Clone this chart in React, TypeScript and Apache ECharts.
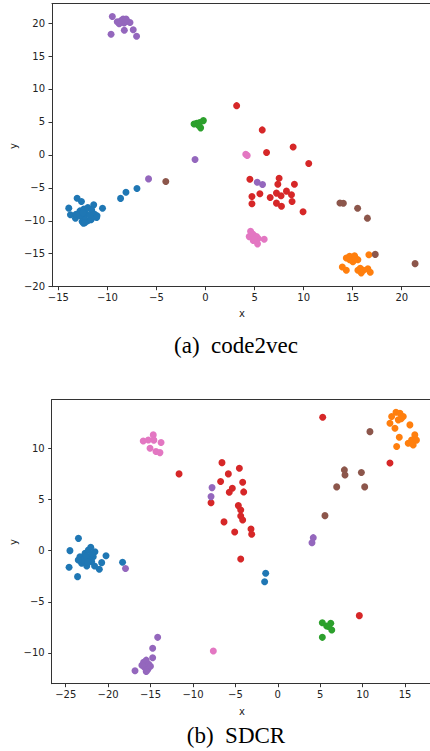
import React, { useEffect, useRef } from 'react';
import * as echarts from 'echarts';

const C = {
  blue: '#1f77b4',
  orange: '#ff7f0e',
  green: '#2ca02c',
  red: '#d62728',
  purple: '#9467bd',
  brown: '#8c564b',
  pink: '#e377c2',
};

// tick labels
const xTicksA = [-15, -10, -5, 0, 5, 10, 15, 20];
const yTicksA = [-20, -15, -10, -5, 0, 5, 10, 15, 20];
const xTicksB = [-25, -20, -15, -10, -5, 0, 5, 10, 15];
const yTicksB = [-10, -5, 0, 5, 10];

// (a) code2vec
const aBlue = [
  [-13.09, -6.57], [-12.65, -7.07], [-13.94, -8.08], [-13.77, -9.09], [-13.26, -9.6],
  [-12.58, -10.1], [-11.4, -7.58], [-10.5, -8.1], [-12.45, -10.35], [-11.67, -9.85],
  [-11.06, -9.24], [-12.8, -8.5], [-12.4, -8.2], [-12.0, -8.0], [-11.6, -8.4],
  [-11.3, -9.0], [-11.6, -9.6], [-12.0, -10.0], [-12.4, -9.6], [-12.8, -9.2],
  [-12.2, -8.9], [-11.8, -9.2], [-12.5, -8.8], [-11.1, -9.5], [-12.3, -10.3],
  [-13.2, -9.0], [-6.99, -5.1], [-8.11, -5.66], [-8.66, -6.6],
];
const aOrange = [
  [14.35, -15.65], [14.69, -15.4], [15.19, -15.3], [15.53, -15.9], [15.02, -16.2],
  [16.65, -15.15], [13.94, -17.0], [14.35, -17.5], [15.53, -17.5], [15.87, -17.9],
  [15.77, -17.2], [16.55, -17.3], [16.79, -17.8], [16.1, -17.5], [14.69, -15.9],
  [15.3, -15.7],
];
const aGreen = [
  [-0.9, 4.8], [-0.22, 5.2], [-0.5, 4.1], [-1.17, 4.7], [-0.73, 4.5], [-0.6, 4.9],
];
const aRed = [
  [3.17, 7.47], [5.78, 3.79], [8.93, 1.21], [6.22, 0.35], [10.52, -1.31],
  [4.52, -3.69], [7.5, -3.54], [7.37, -4.45], [9.06, -4.45], [4.73, -6.31],
  [5.54, -5.9], [4.73, -7.42], [6.59, -6.46], [7.23, -5.8], [7.7, -6.2],
  [8.25, -5.5], [8.76, -6.06], [8.82, -7.07], [7.23, -7.32], [7.74, -7.78],
  [9.94, -8.64],
];
const aPurple = [
  [-9.5, 21.0], [-9.63, 18.3], [-8.28, 18.9], [-7.37, 19.0], [-7.03, 18.0],
  [-9.0, 20.2], [-8.6, 20.4], [-8.3, 20.0], [-8.0, 20.3], [-7.7, 20.1],
  [-8.4, 20.6], [-8.8, 19.9], [-8.1, 20.6], [-1.07, -0.7], [-5.81, -3.64],
  [5.27, -4.14], [5.81, -4.49],
];
const aBrown = [
  [-4.05, -4.04], [13.7, -7.3], [14.05, -7.35], [15.5, -8.1], [16.5, -9.6],
  [17.3, -15.1], [21.36, -16.5],
];
const aPink = [
  [4.1, 0.1], [4.25, -0.1], [4.59, -11.6], [4.45, -12.4], [4.86, -12.1],
  [5.2, -12.4], [5.37, -12.7], [5.98, -12.8], [4.86, -13.0], [5.3, -13.5],
  [5.0, -12.8], [4.7, -11.9],
];

// (b) SDCR
const bBlue = [
  [-23.5, 1.2], [-24.5, 0], [-24.6, -1.63], [-23.6, -2.54], [-20.25, -0.49],
  [-20.76, -1.17], [-21.04, -1.82], [-21.6, -1.5], [-18.3, -1.14],
  [-22.05, 0.33], [-21.55, -0.1], [-23.32, -0.59], [-23.12, -1.23], [-22.52, -1.5],
  [-21.94, -1.07], [-22.72, -0.26], [-22.33, 0.07], [-22.91, -0.91], [-23.52, -0.91],
  [-21.75, -0.59], [-22.2, -0.6], [-22.6, -0.5], [-21.9, -0.3], [-22.4, -1.1],
  [-1.43, -2.21], [-1.55, -3.03],
];
const bOrange = [
  [13.93, 13.53], [14.4, 13.43], [13.42, 13.1], [14.79, 13.1], [14.2, 12.78],
  [13.22, 12.45], [15.57, 12.29], [13.81, 11.96], [14.32, 11.08], [16.15, 11.31],
  [15.77, 10.82], [15.37, 10.5], [15.96, 10.33], [16.34, 10.8], [14.01, 10.17],
  [14.54, 12.9],
];
const bGreen = [
  [5.25, -7.04], [6.24, -7.1], [5.76, -7.36], [6.36, -7.75], [5.25, -8.47], [6.0, -7.4],
];
const bRed = [
  [-11.64, 7.5], [-7.87, 4.69], [5.29, 13.04], [13.22, 8.57], [9.61, -6.35],
  [-6.58, 8.6], [-4.53, 8.05], [-5.83, 7.5], [-6.74, 6.75], [-4.14, 6.68],
  [-5.36, 6.1], [-5.72, 5.7], [-4.02, 5.74], [-4.65, 4.4], [-4.37, 3.98],
  [-4.37, 3.39], [-4.14, 3.0], [-6.34, 2.81], [-5.08, 1.83], [-3.16, 2.12],
  [-3.08, 1.6], [-4.37, -0.81],
];
const bPurple = [
  [-17.95, -1.75], [-7.75, 6.16], [-7.87, 5.28], [4.18, 1.27], [4.03, 0.78],
  [-14.16, -8.47], [-14.75, -9.54], [-14.75, -10.46], [-16.83, -11.73],
  [-15.82, -10.9], [-15.51, -10.7], [-15.21, -11.1], [-15.72, -11.4],
  [-15.31, -11.6], [-15.01, -11.3], [-16.02, -11.2], [-15.51, -11.8],
];
const bBrown = [
  [10.86, 11.63], [7.85, 7.89], [7.92, 7.4], [9.85, 7.63], [6.94, 6.23],
  [10.24, 6.23], [5.56, 3.42],
];
const bPink = [
  [-15.86, 10.72], [-15.26, 10.82], [-14.68, 11.31], [-14.61, 10.8], [-13.76, 10.56],
  [-15.06, 10.0], [-14.36, 9.68], [-13.89, 9.58], [-7.6, -9.8],
];

const fmt = (v: number) => (v < 0 ? '\u2212' + Math.abs(v) : String(v));
const tickFont = { fontFamily: 'DejaVu Sans', fontSize: 10, color: '#222' };
const spine = { show: true, lineStyle: { color: '#333', width: 1 } };

function bottomX(grid: number, min: number, max: number, ticks: number[]) {
  return {
    type: 'value', gridIndex: grid, position: 'bottom', min, max,
    axisLine: { ...spine, onZero: false },
    axisTick: { show: true, length: 3.5, inside: false, customValues: ticks, lineStyle: { color: '#333' } },
    axisLabel: { ...tickFont, margin: 6, customValues: ticks, formatter: fmt },
    splitLine: { show: false },
  };
}
function topX(grid: number, min: number, max: number) {
  return {
    type: 'value', gridIndex: grid, position: 'top', min, max,
    axisLine: { ...spine, onZero: false },
    axisTick: { show: false }, axisLabel: { show: false }, splitLine: { show: false },
  };
}
function leftY(grid: number, min: number, max: number, ticks: number[]) {
  return {
    type: 'value', gridIndex: grid, position: 'left', min, max,
    axisLine: { ...spine, onZero: false },
    axisTick: { show: true, length: 3.5, inside: false, customValues: ticks, lineStyle: { color: '#333' } },
    axisLabel: { ...tickFont, margin: 7, customValues: ticks, formatter: fmt },
    splitLine: { show: false },
  };
}

const sc = (data: number[][], color: string, xi: number, yi: number) => ({
  type: 'scatter', data, xAxisIndex: xi, yAxisIndex: yi, symbolSize: 7,
  itemStyle: { color, opacity: 1 }, clip: false,
});

export default function App() {
  const ref = useRef<HTMLDivElement>(null);
  useEffect(() => {
    if (!ref.current) return;
    const chart = echarts.init(ref.current, null, { renderer: 'svg' });
    const axisName = { fontFamily: 'DejaVu Sans', fontSize: 10, fill: '#222' };
    chart.setOption({
      animation: false,
      backgroundColor: '#fff',
      grid: [
        { left: 52, top: 3.7, width: 378, height: 283 },
        { left: 51.7, top: 399.7, width: 378.3, height: 284 },
      ],
      xAxis: [
        bottomX(0, -15.65, 22.88, xTicksA),
        topX(0, -15.65, 22.88),
        bottomX(1, -26.65, 17.94, xTicksB),
        topX(1, -26.65, 17.94),
      ],
      yAxis: [leftY(0, -20, 22.94, yTicksA), leftY(1, -13.0, 14.75, yTicksB)],
      series: [
        sc(aBlue, C.blue, 0, 0), sc(aOrange, C.orange, 0, 0), sc(aGreen, C.green, 0, 0),
        sc(aRed, C.red, 0, 0), sc(aPurple, C.purple, 0, 0), sc(aBrown, C.brown, 0, 0),
        sc(aPink, C.pink, 0, 0),
        sc(bBlue, C.blue, 2, 1), sc(bOrange, C.orange, 2, 1), sc(bGreen, C.green, 2, 1),
        sc(bRed, C.red, 2, 1), sc(bPurple, C.purple, 2, 1), sc(bBrown, C.brown, 2, 1),
        sc(bPink, C.pink, 2, 1),
      ],
      graphic: [
        { type: 'text', x: 242, y: 313, style: { ...axisName, text: 'x', align: 'center', verticalAlign: 'middle' } },
        { type: 'text', x: 13, y: 146, rotation: Math.PI / 2, style: { ...axisName, text: 'y', align: 'center', verticalAlign: 'middle' } },
        { type: 'text', x: 242, y: 711, style: { ...axisName, text: 'x', align: 'center', verticalAlign: 'middle' } },
        { type: 'text', x: 13, y: 542, rotation: Math.PI / 2, style: { ...axisName, text: 'y', align: 'center', verticalAlign: 'middle' } },
        { type: 'text', x: 236, y: 345, style: { text: '(a)\u00a0\u00a0code2vec', fontFamily: 'Liberation Serif', fontSize: 23, fill: '#000', align: 'center', verticalAlign: 'middle' } },
        { type: 'text', x: 236, y: 735, style: { text: '(b)\u00a0\u00a0SDCR', fontFamily: 'Liberation Serif', fontSize: 23, fill: '#000', align: 'center', verticalAlign: 'middle' } },
      ],
    });
    return () => chart.dispose();
  }, []);
  return <div ref={ref} style={{ position: 'absolute', left: 0, top: 0, width: 430, height: 751 }} />;
}
